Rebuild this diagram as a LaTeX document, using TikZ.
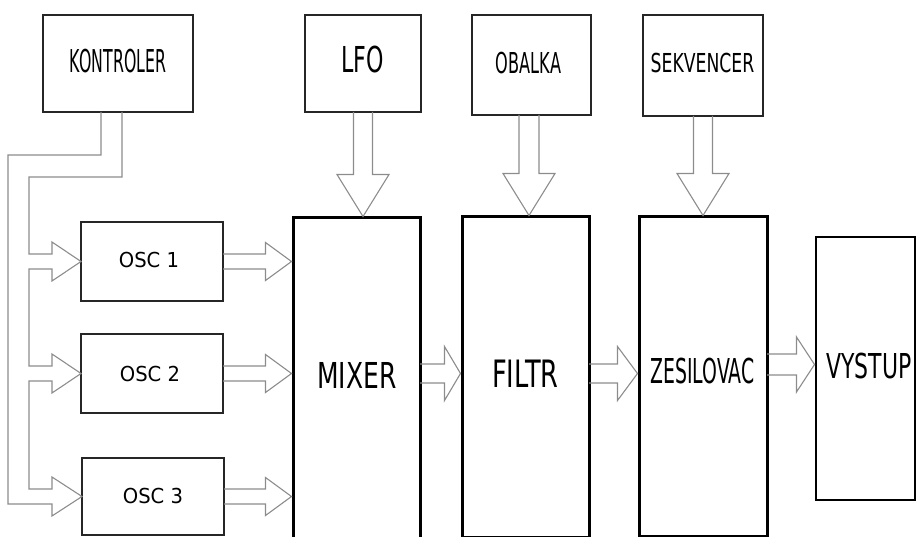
\documentclass[tikz,border=0pt]{standalone}
\usepackage{fontspec}
\setmainfont{DejaVu Sans}
\usepackage{graphicx}
\usetikzlibrary{calc}
\tikzset{
  pipe/.style={draw=black!45, line width=1.1pt, line join=miter},
  topbox/.style={draw=black!85, line width=2pt, inner sep=0pt, outer sep=0pt},
  oscbox/.style={draw=black!85, line width=2pt, inner sep=0pt, outer sep=0pt},
  mainbox/.style={draw=black, line width=3pt, inner sep=0pt, outer sep=0pt},
  lab/.style={anchor=base, inner sep=0pt, outer sep=0pt},
}
\newcommand\lbl[3]{\fontsize{#1pt}{#1pt}\selectfont\scalebox{#2}[1]{#3}}
% horizontal hollow arrow: y from start, tip x from second point
\newcommand\harrow[5]{\draw[pipe] let \p1=#1, \p2=#2 in
  (\x1,\y1+#3pt) -- (\x2-#5pt,\y1+#3pt) -- (\x2-#5pt,\y1+#4pt) -- (\x2,\y1)
  -- (\x2-#5pt,\y1-#4pt) -- (\x2-#5pt,\y1-#3pt) -- (\x1,\y1-#3pt);}
% vertical hollow arrow (downwards): x from start, tip y from second point
\newcommand\varrow[5]{\draw[pipe] let \p1=#1, \p2=#2 in
  (\x1-#3pt,\y1) -- (\x1-#3pt,\y2+#5pt) -- (\x1-#4pt,\y2+#5pt) -- (\x1,\y2)
  -- (\x1+#4pt,\y2+#5pt) -- (\x1+#3pt,\y2+#5pt) -- (\x1+#3pt,\y1);}
\begin{document}
\begin{tikzpicture}[x=1pt,y=-1pt]
\useasboundingbox (0,0) rectangle (918,537);
% boxes
\node[topbox, minimum width=150pt, minimum height=97pt] (kontroler) at (118,63.5) {};
\node[topbox, minimum width=116pt, minimum height=97pt] (lfo) at (363,63.5) {};
\node[topbox, minimum width=119pt, minimum height=100pt] (obalka) at (531.5,65) {};
\node[topbox, minimum width=120pt, minimum height=101pt] (sekvencer) at (703,65.5) {};
\node[oscbox, minimum width=142pt, minimum height=79pt] (osc1) at (152,261.5) {};
\node[oscbox, minimum width=142pt, minimum height=79pt] (osc2) at (152,373.5) {};
\node[oscbox, minimum width=142pt, minimum height=77pt] (osc3) at (153,496.5) {};
\node[inner sep=0pt, outer sep=0pt, minimum width=127pt, minimum height=324pt] (mixer) at (356.5,380) {};
\draw[line width=3pt] (mixer.south west) -- (mixer.north west) -- (mixer.north east) -- (mixer.south east);
\node[mainbox, minimum width=127pt, minimum height=320pt] (filtr) at (525.5,377) {};
\node[mainbox, minimum width=128pt, minimum height=319pt] (zes) at (703,376.5) {};
\node[mainbox, line width=2.5pt, minimum width=99pt, minimum height=263pt] (vystup) at (865.5,368.5) {};
% labels
\node[lab] (tkon) at (118,73) {\lbl{31.5}{0.50}{KONTROLER}};
\node[lab] (tlfo) at (362.5,73) {\lbl{35.7}{0.62}{LFO}};
\node[lab] (tobal) at (528.5,74) {\lbl{28.8}{0.56}{OBALKA}};
\node[lab] (tsek) at (702.5,73) {\lbl{26.1}{0.66}{SEKVENCER}};
\node[lab] (tosc1) at (149,268) {\lbl{20.6}{0.95}{OSC 1}};
\node[lab] (tosc2) at (150,381) {\lbl{20.6}{0.95}{OSC 2}};
\node[lab] (tosc3) at (153,503) {\lbl{20.6}{0.95}{OSC 3}};
\node[lab] (tmix) at (357,388) {\lbl{35.7}{0.70}{MIXER}};
\node[lab] (tfil) at (525.5,387) {\lbl{37.7}{0.68}{FILTR}};
\node[lab] (tzes) at (702.5,383) {\lbl{34.3}{0.55}{ZESILOVAC}};
\node[lab] (tvys) at (869,378) {\lbl{34.3}{0.64}{VYSTUP}};
% controller pipe
\coordinate (ka) at ([xshift=-17pt]kontroler.south);
\coordinate (kb) at ([xshift=4pt]kontroler.south);
\draw[pipe] (ka) -- ++(0,43) -- (8,155) -- (8,504) -- (52,504) -- (52,516)
  -- (osc3.west) -- (52,477) -- (52,489) -- (29,489) -- (29,381) -- (52,381)
  -- (52,393) -- (osc2.west) -- (52,354) -- (52,366) -- (29,366) -- (29,269)
  -- (52,269) -- (52,281) -- (osc1.west) -- (52,242) -- (52,254) -- (29,254)
  -- (29,177) -- (122,177) -- (kb);
% osc outputs
\harrow{(osc1.east)}{([xshift=-1.5pt]mixer.west)}{7.5}{19}{26}
\harrow{(osc2.east)}{([xshift=-1.5pt]mixer.west)}{7.5}{19}{26}
\harrow{(osc3.east)}{([xshift=-1.5pt]mixer.west)}{7.5}{19}{26}
% modulation inputs
\varrow{(lfo.south)}{([yshift=1.5pt]mixer.north)}{9.5}{26}{42}
\varrow{([xshift=-2.5pt]obalka.south)}{([yshift=1.5pt]filtr.north)}{10}{26}{42}
\varrow{(sekvencer.south)}{([yshift=1.5pt]zes.north)}{9.5}{26}{42}
% signal chain
\coordinate (sig) at (0,373.5);
\coordinate (sig2) at (0,364.5);
\harrow{(mixer.east |- sig)}{([xshift=-1.5pt]filtr.west)}{9.5}{27}{16}
\harrow{(filtr.east |- sig)}{([xshift=-1.5pt]zes.west)}{9.5}{27}{20}
\harrow{(zes.east |- sig2)}{([xshift=-1.5pt]vystup.west)}{10.5}{27.5}{18}
\end{tikzpicture}
\end{document}
